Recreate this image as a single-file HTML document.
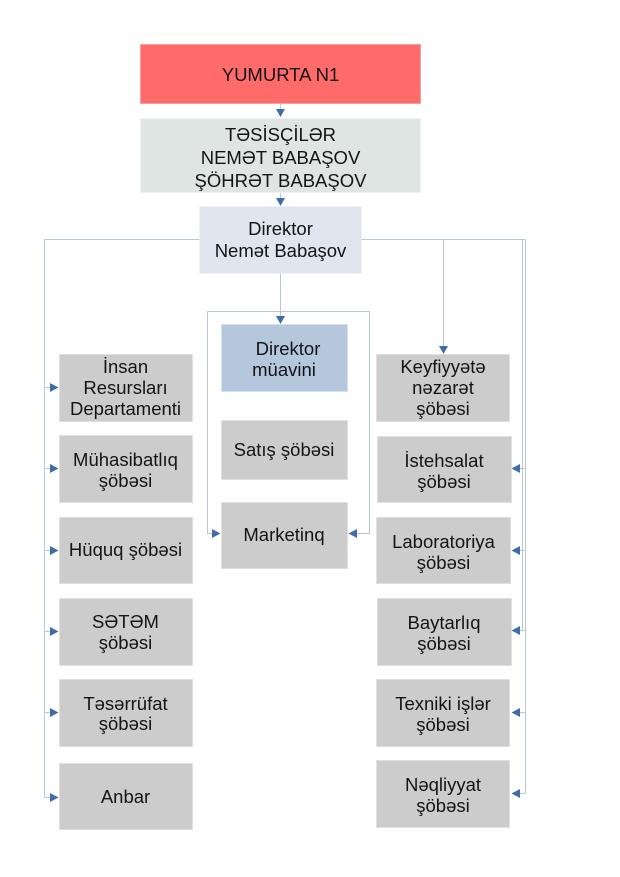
<!DOCTYPE html>
<html>
<head>
<meta charset="utf-8">
<style>
  html, body { margin:0; padding:0; background:#ffffff; }
  body { width:620px; height:877px; overflow:hidden; }
  svg { display:block; }
  text { font-family: "Liberation Sans", "DejaVu Sans", sans-serif; font-size:18.5px; fill:#141414; }
</style>
</head>
<body>
<svg width="620" height="877" viewBox="0 0 620 877" xmlns="http://www.w3.org/2000/svg">
  <!-- connectors -->
  <g stroke="#b8c7d4" stroke-width="1" fill="none">
    <line x1="280.5" y1="103" x2="280.5" y2="110"/>
    <line x1="280.5" y1="192" x2="280.5" y2="199"/>
    <!-- main horizontal -->
    <line x1="44.5" y1="239.5" x2="525.5" y2="239.5"/>
    <!-- left trunk -->
    <line x1="44.5" y1="239.5" x2="44.5" y2="797.5"/>
    <line x1="44.5" y1="387.5" x2="51" y2="387.5"/>
    <line x1="44.5" y1="468.5" x2="51" y2="468.5"/>
    <line x1="44.5" y1="550.5" x2="51" y2="550.5"/>
    <line x1="44.5" y1="631.5" x2="51" y2="631.5"/>
    <line x1="44.5" y1="712.5" x2="51" y2="712.5"/>
    <line x1="44.5" y1="797.5" x2="51" y2="797.5"/>
    <!-- right trunks -->
    <line x1="522.5" y1="239.5" x2="522.5" y2="630.5"/>
    <line x1="525.5" y1="239.5" x2="525.5" y2="793.5"/>
    <line x1="519" y1="468.5" x2="525.5" y2="468.5"/>
    <line x1="519" y1="550.5" x2="525.5" y2="550.5"/>
    <line x1="519" y1="630.5" x2="525.5" y2="630.5"/>
    <line x1="519" y1="712.5" x2="525.5" y2="712.5"/>
    <line x1="519" y1="793.5" x2="525.5" y2="793.5"/>
    <!-- Keyfiyyete -->
    <line x1="443.5" y1="239.5" x2="443.5" y2="346"/>
    <!-- to deputy -->
    <line x1="280.5" y1="273" x2="280.5" y2="317"/>
    <!-- bracket -->
    <polyline points="213,533.5 207.5,533.5 207.5,311.5 369.5,311.5 369.5,533.5 356,533.5"/>
  </g>

  <!-- boxes -->
  <rect x="140.5" y="44.5" width="280" height="59" fill="#ff6b6b" stroke="#f5a0a0" stroke-width="1"/>
  <rect x="140.5" y="118.5" width="280" height="74" fill="#dfe5e3" stroke="#eef1f0" stroke-width="1"/>
  <rect x="199.5" y="206.5" width="162" height="67" fill="#dfe6ef" stroke="#eef2f6" stroke-width="1"/>

  <rect x="221.5" y="324.5" width="126" height="67" fill="#b4c7dd" stroke="#d4e0ec" stroke-width="1"/>
  <rect x="221.5" y="420.5" width="126" height="59" fill="#cccccc" stroke="#e0e0e0" stroke-width="1"/>
  <rect x="221.5" y="502.5" width="126" height="66" fill="#cccccc" stroke="#e0e0e0" stroke-width="1"/>

  <g fill="#cccccc" stroke="#e0e0e0" stroke-width="1">
    <rect x="59.5" y="354.5" width="133" height="67"/>
    <rect x="59.5" y="435.5" width="133" height="67"/>
    <rect x="59.5" y="517.5" width="133" height="66"/>
    <rect x="59.5" y="598.5" width="133" height="67"/>
    <rect x="59.5" y="679.5" width="133" height="67"/>
    <rect x="59.5" y="763.5" width="133" height="66"/>

    <rect x="376.5" y="354.5" width="133" height="67"/>
    <rect x="377.5" y="436.5" width="134" height="66"/>
    <rect x="376.5" y="517.5" width="134" height="66"/>
    <rect x="377.5" y="598.5" width="134" height="67"/>
    <rect x="376.5" y="679.5" width="133" height="67"/>
    <rect x="376.5" y="760.5" width="133" height="67"/>
  </g>

  <!-- arrowheads -->
  <g fill="#3e6cad">
    <polygon points="276,109 285,109 280.5,117"/>
    <polygon points="276,198 285,198 280.5,206"/>
    <polygon points="276,316 285,316 280.5,324"/>
    <polygon points="439,346 448,346 443.5,354"/>

    <polygon points="50,383 50,392 58.5,387.5"/>
    <polygon points="50,464 50,473 58.5,468.5"/>
    <polygon points="50,546 50,555 58.5,550.5"/>
    <polygon points="50,627 50,636 58.5,631.5"/>
    <polygon points="50,708 50,717 58.5,712.5"/>
    <polygon points="50,793 50,802 58.5,797.5"/>

    <polygon points="520,464 520,473 511.5,468.5"/>
    <polygon points="520,546 520,555 511.5,550.5"/>
    <polygon points="520,626 520,635 511.5,630.5"/>
    <polygon points="520,708 520,717 511.5,712.5"/>
    <polygon points="520,789 520,798 511.5,793.5"/>

    <polygon points="212,529 212,538 220.5,533.5"/>
    <polygon points="357,529 357,538 348.5,533.5"/>
  </g>

  <!-- text -->
  <g text-anchor="middle">
    <text x="280.5" y="81">YUMURTA N1</text>
    <text x="280.5" y="141">TƏSİSÇİLƏR</text>
    <text x="280.5" y="164">NEMƏT BABAŞOV</text>
    <text x="280.5" y="187">ŞÖHRƏT BABAŞOV</text>

    <text x="280.5" y="235">Direktor</text>
    <text x="280.5" y="257">Nemət Babaşov</text>

    <text x="288" y="355">Direktor</text>
    <text x="284" y="376">müavini</text>
    <text x="284" y="456">Satış şöbəsi</text>
    <text x="284" y="541">Marketinq</text>

    <text x="125.5" y="373">İnsan</text>
    <text x="125.5" y="394">Resursları</text>
    <text x="125.5" y="415">Departamenti</text>
    <text x="125.5" y="466">Mühasibatlıq</text>
    <text x="125.5" y="487">şöbəsi</text>
    <text x="125.5" y="556">Hüquq şöbəsi</text>
    <text x="125.5" y="628">SƏTƏM</text>
    <text x="125.5" y="649">şöbəsi</text>
    <text x="125.5" y="710">Təsərrüfat</text>
    <text x="125.5" y="730">şöbəsi</text>
    <text x="125.5" y="803">Anbar</text>

    <text x="443" y="373">Keyfiyyətə</text>
    <text x="443" y="394">nəzarət</text>
    <text x="443" y="415">şöbəsi</text>
    <text x="444" y="467">İstehsalat</text>
    <text x="444" y="488">şöbəsi</text>
    <text x="443.5" y="548">Laboratoriya</text>
    <text x="443.5" y="569">şöbəsi</text>
    <text x="444" y="629">Baytarlıq</text>
    <text x="444" y="650">şöbəsi</text>
    <text x="443" y="710">Texniki işlər</text>
    <text x="443" y="731">şöbəsi</text>
    <text x="443" y="791">Nəqliyyat</text>
    <text x="443" y="812">şöbəsi</text>
  </g>
</svg>
</body>
</html>
